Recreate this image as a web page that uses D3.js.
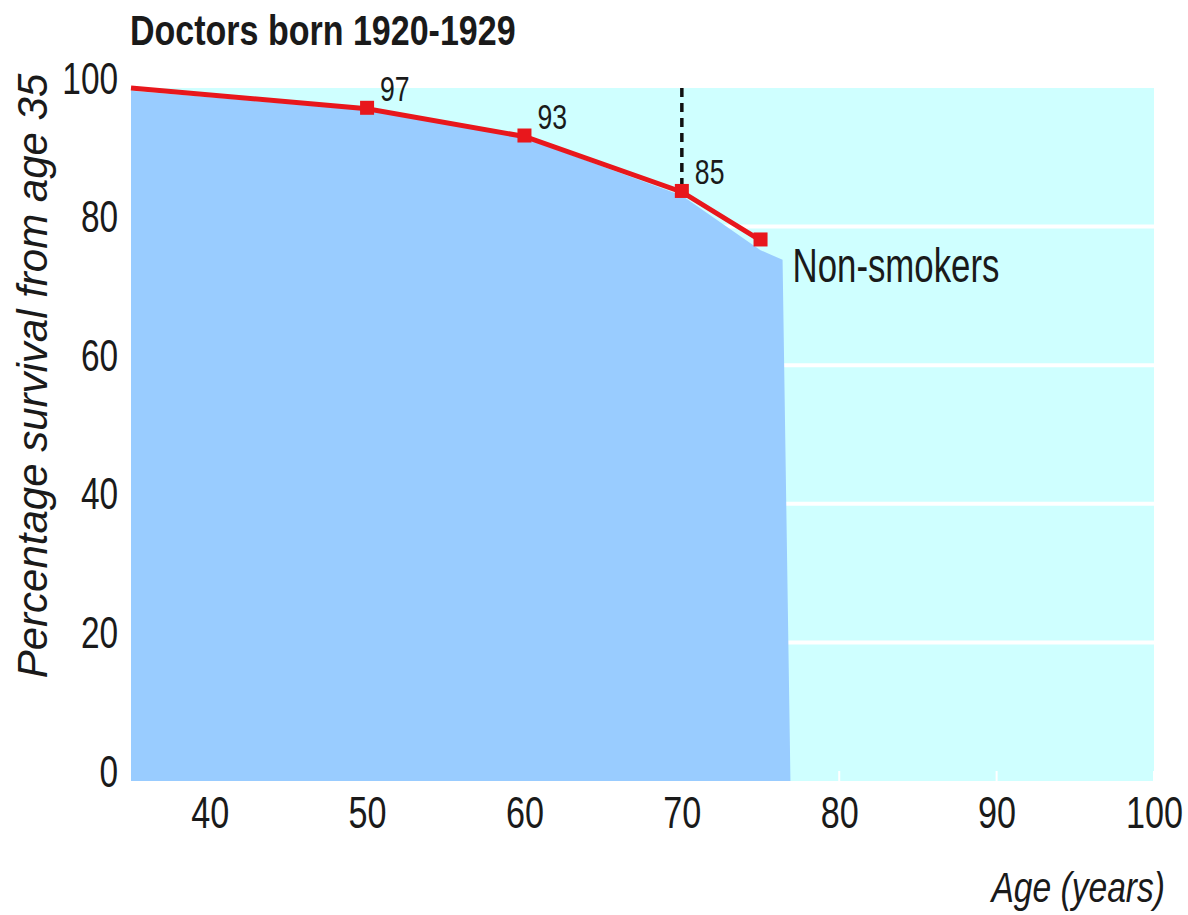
<!DOCTYPE html>
<html>
<head>
<meta charset="utf-8">
<script src="https://cdn.jsdelivr.net/npm/d3@7"></script>
<style>
  body { margin: 0; background: #fff; }
  text { font-family: "Liberation Sans Narrow", "Liberation Sans", sans-serif; fill: #1a1a1a; }
</style>
</head>
<body>
<div class="chart"></div>
<script>
// Survival of non-smoking doctors born 1920-1929

var svgWidth = 1188;
var svgHeight = 915;

// data
var ages = [35, 50, 60, 70, 75];
var survival = [100, 97, 93, 85, 78];
var labelled = [97, 93, 85];          // values written next to markers
var fillAges = [35, 50, 60, 70, 75, 76.4, 76.9];
var fillSurvival = [99.6, 96.8, 92.8, 84.5, 76.6, 75.2, 0];
var xTicks = [40, 50, 60, 70, 80, 90, 100];
var yTicks = [0, 20, 40, 60, 80, 100];
var gridValues = [20, 40, 60, 80];
var markerAge = 70;

// the original type is a condensed face, squeeze the sans horizontally
var squeeze = 0.76;

var svg = d3.select(".chart")
  .append("svg")
  .attr("width", svgWidth)
  .attr("height", svgHeight);

var x = d3.scaleLinear().domain([35, 100]).range([131, 1154]);
var y = d3.scaleLinear().domain([0, 100]).range([781, 88]);

var cyan = "#cfffff";
var blue = "#99ccff";
var red = "#e8171c";

// plot background
svg.append("rect")
  .attr("x", x(35))
  .attr("y", y(100))
  .attr("width", x(100) - x(35))
  .attr("height", y(0) - y(100))
  .attr("fill", cyan);

// white gridlines
svg.selectAll(".grid")
  .data(gridValues)
  .enter()
  .append("line")
  .attr("class", "grid")
  .attr("x1", x(35))
  .attr("x2", x(100))
  .attr("y1", d => y(d))
  .attr("y2", d => y(d))
  .attr("stroke", "#fff")
  .attr("stroke-width", 4);

// small white ticks along bottom
svg.selectAll(".xtick")
  .data(xTicks)
  .enter()
  .append("line")
  .attr("x1", d => x(d))
  .attr("x2", d => x(d))
  .attr("y1", y(0))
  .attr("y2", y(0) - 10)
  .attr("stroke", "#fff")
  .attr("stroke-width", 2);

// filled survival area, closed down to zero and back to the start
var fillData = fillAges.map((a, i) => ({ age: a, s: fillSurvival[i] }));
svg.append("path")
  .datum(fillData)
  .attr("d", function(d) {
    var pts = d.map(p => [x(p.age), y(p.s)]);
    pts.push([x(35), y(0)]);
    return "M" + pts.join("L") + "Z";
  })
  .attr("fill", blue);

// dashed line up from age 70
var i70 = ages.indexOf(markerAge);
svg.append("line")
  .attr("x1", x(markerAge))
  .attr("x2", x(markerAge))
  .attr("y1", y(100))
  .attr("y2", y(survival[i70]) - 8)
  .attr("stroke", "#111")
  .attr("stroke-width", 3.5)
  .attr("stroke-dasharray", "9,6");

// red line and markers
var lineData = ages.map((a, i) => ({ age: a, s: survival[i] }));
svg.append("path")
  .datum(lineData)
  .attr("d", d3.line().x(d => x(d.age)).y(d => y(d.s)))
  .attr("fill", "none")
  .attr("stroke", red)
  .attr("stroke-width", 5);

svg.selectAll(".marker")
  .data(lineData.slice(1))
  .enter()
  .append("rect")
  .attr("class", "marker")
  .attr("x", d => x(d.age) - 7)
  .attr("y", d => y(d.s) - 8)
  .attr("width", 14)
  .attr("height", 14)
  .attr("fill", red);

svg.selectAll(".vlabel")
  .data(lineData.slice(1, 1 + labelled.length))
  .enter()
  .append("text")
  .attr("class", "vlabel")
  .attr("transform", d => `translate(${x(d.age) + 13}, ${y(d.s) - 8}) scale(${squeeze},1)`)
  .attr("font-size", 35)
  .text((d, i) => labelled[i]);

// axes
var leftAxis = d3.axisLeft(y).tickValues(yTicks).tickSize(0);
var bottomAxis = d3.axisBottom(x).tickValues(xTicks).tickSize(0);

var yAxisG = svg.append("g")
  .attr("transform", `translate(${x(35)}, 0)`)
  .call(leftAxis);
yAxisG.select(".domain").remove();
yAxisG.selectAll("text")
  .attr("x", -17)
  .attr("y", 5)
  .attr("dy", null)
  .attr("transform", `scale(${squeeze},1)`)
  .attr("font-family", null)
  .attr("font-size", 44)
  .attr("fill", "#1a1a1a");

var xAxisG = svg.append("g")
  .attr("transform", `translate(0, ${y(0)})`)
  .call(bottomAxis);
xAxisG.select(".domain").remove();
xAxisG.selectAll("text")
  .attr("y", 47)
  .attr("dy", null)
  .attr("font-family", null)
  .attr("font-size", 45)
  .attr("fill", "#1a1a1a");
// squeeze each x label about its own centre
xAxisG.selectAll(".tick text")
  .attr("transform", `scale(${squeeze},1)`);

// texts
svg.append("text")
  .attr("transform", `translate(130, 45) scale(0.81,1)`)
  .attr("font-size", 42)
  .attr("font-weight", "bold")
  .attr("fill", "#111")
  .text("Doctors born 1920-1929");

svg.append("text")
  .attr("transform", `translate(${x(76.4) + 10}, ${y(75.2) + 22}) scale(0.725,1)`)
  .attr("font-size", 48)
  .text("Non-smokers");

svg.append("text")
  .attr("transform", "translate(1165, 902) scale(0.8,1)")
  .attr("text-anchor", "end")
  .attr("font-size", 42)
  .attr("font-style", "italic")
  .text("Age (years)");

svg.append("text")
  .attr("transform", "translate(47, 376) rotate(-90)")
  .attr("text-anchor", "middle")
  .attr("font-size", 42)
  .attr("font-style", "italic")
  .attr("font-family", "Liberation Sans, sans-serif")
  .text("Percentage survival from age 35");
</script>
</body>
</html>
